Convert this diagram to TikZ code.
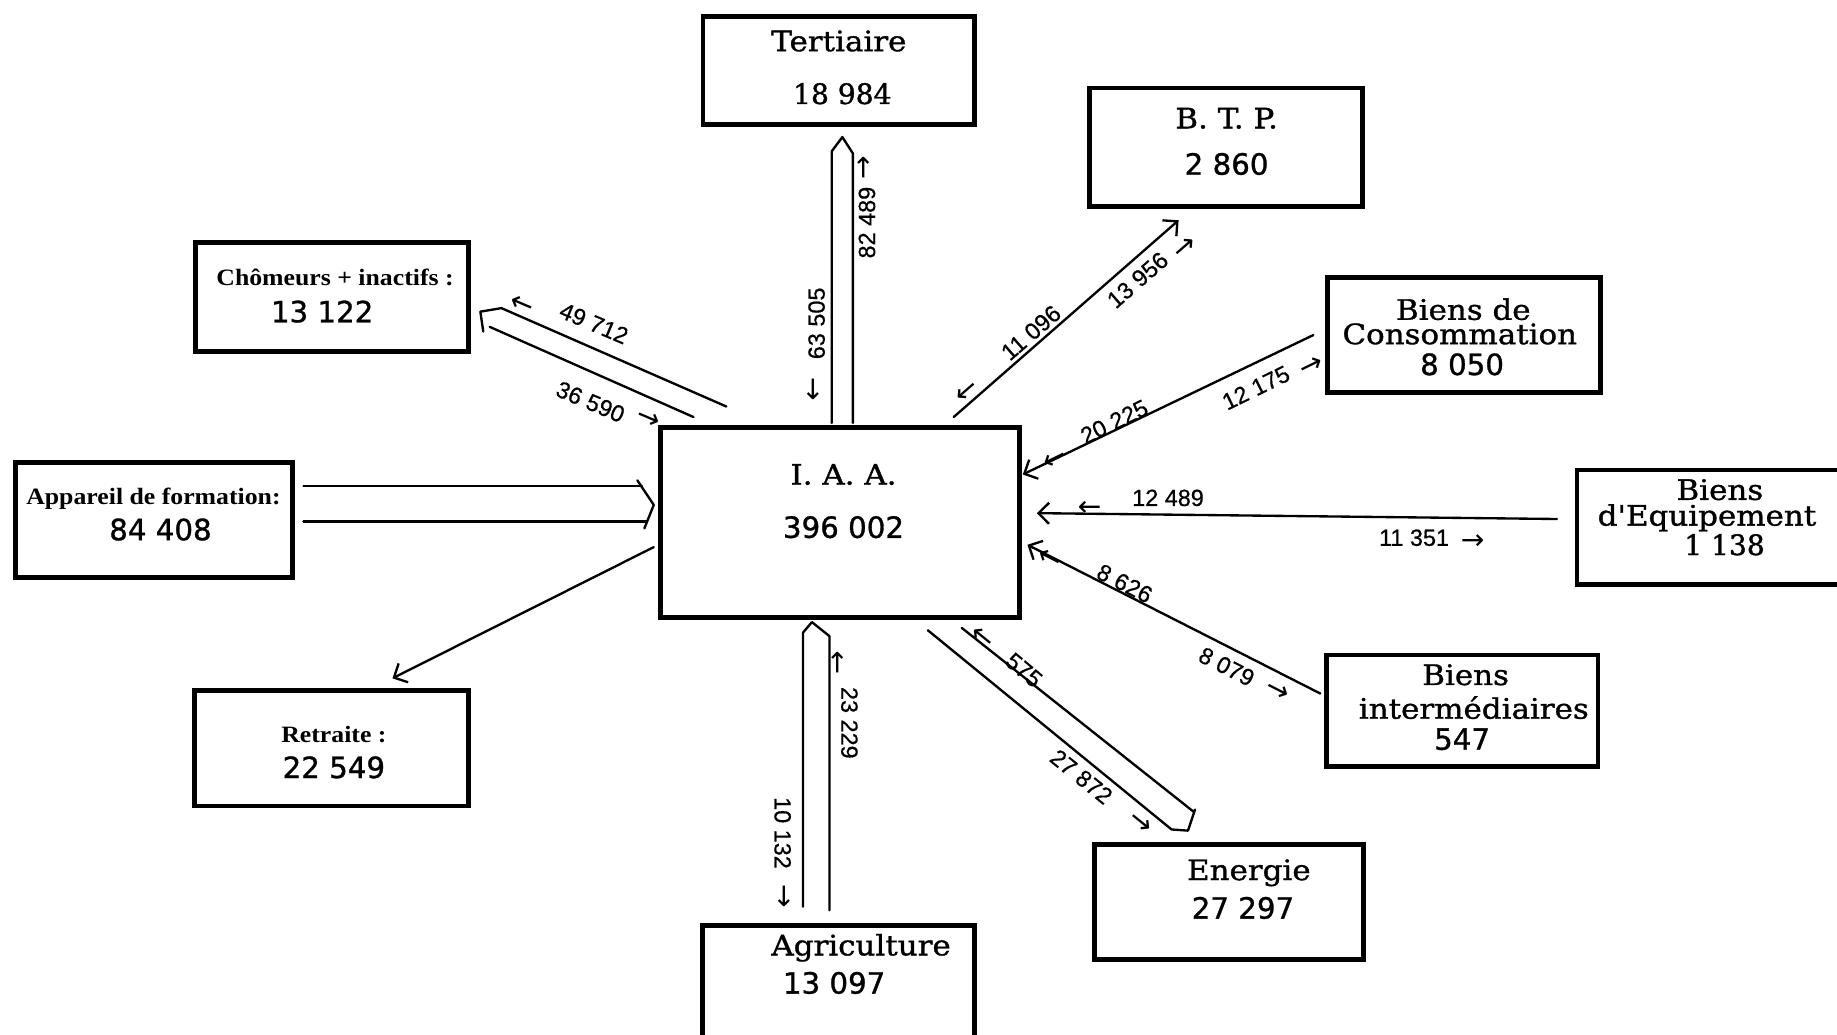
\documentclass[tikz,border=0pt]{standalone}
\usepackage{fontspec}
\usetikzlibrary{arrows.meta}
\newfontfamily\labfont{DejaVu Serif}[FakeStretch=1.1,FakeBold=1.2,Ligatures=TeXOff]
\newfontfamily\numfont{DejaVu Sans}[FakeBold=1]
\newfontfamily\serifnum{DejaVu Serif}[FakeBold=1.2]
\newfontfamily\boldserif{Liberation Serif}[FakeStretch=1.1]
\newfontfamily\arrfont{Liberation Sans}[FakeBold=0.6]
\newfontfamily\symfont{DejaVu Sans}
\tikzset{
  box/.style={draw, line width=4pt, rectangle, inner sep=0pt},
  conn/.style={line width=2pt, line join=round, line cap=round},
  arr/.style={conn, -{Straight Barb[length=9pt,width=18pt,line width=2pt]}},
  lab/.style={font={\labfont\fontsize{24}{26}\selectfont}, inner sep=0pt},
  bnum/.style={font={\numfont\fontsize{25}{27}\selectfont}, inner sep=0pt},
  bnums/.style={font={\serifnum\fontsize{24}{26}\selectfont}, inner sep=0pt},
  blab/.style={font={\boldserif\bfseries\fontsize{20}{22}\selectfont}, inner sep=0pt},
  flab/.style={font={\arrfont\fontsize{20}{22}\selectfont}, inner sep=0pt},
  sarr/.style={font={\symfont\fontsize{24}{26}\selectfont}, inner sep=0pt},
}
\begin{document}
\begin{tikzpicture}[x=1pt,y=-1pt]
\useasboundingbox (0,0) rectangle (1568,883);
\clip (0,0) rectangle (1568,883);
\fill[white] (0,0) rectangle (1568,883);

% boxes
\node[box, minimum width=232pt, minimum height=92pt]  (ter) at (716,60) {};
\node[box, minimum width=233pt, minimum height=101pt] (btp) at (1046.5,125.5) {};
\node[box, minimum width=233pt, minimum height=93pt]  (cho) at (283.5,253.5) {};
\node[box, minimum width=233pt, minimum height=98pt]  (bc)  at (1249.5,286) {};
\node[box, minimum width=236pt, minimum height=98pt]  (app) at (131.5,444) {};
\node[box, minimum width=306pt, minimum height=162pt] (iaa) at (717,446) {};
\node[box, minimum width=352pt, minimum height=97.5pt] (be) at (1522,450) {};
\node[box, minimum width=234pt, minimum height=98.5pt] (ret) at (283,638.8) {};
\node[box, minimum width=232pt, minimum height=95pt]  (bi)  at (1248,606.5) {};
\node[box, minimum width=230pt, minimum height=98pt]  (ene) at (1049,770) {};
\node[box, minimum width=232pt, minimum height=158pt] (agr) at (715.5,869) {};

% box texts
\node[lab]   (terT) at (716,35) {Tertiaire};
\node[bnums] (terN) at (719,80) {18 984};
\node[lab]   (btpT) at (1047,101) {B. T. P.};
\node[bnum]  (btpN) at (1047,140) {2 860};
\node[blab]  (choT) at (286,237) {Chômeurs + inactifs :};
\node[bnum]  (choN) at (275,266) {13 122};
\node[lab]   (bcT1) at (1249,264) {Biens de};
\node[lab]   (bcT2) at (1246,285) {Consommation};
\node[bnum]  (bcN)  at (1248,311) {8 050};
\node[blab]  (appT) at (131,426) {Appareil de formation:};
\node[bnum]  (appN) at (137,452) {84 408};
\node[lab]   (iaaT) at (720,405) {I. A. A.};
\node[bnum]  (iaaN) at (720,450) {396 002};
\node[lab]   (beT1) at (1468,418) {Biens};
\node[lab]   (beT2) at (1457,442) {d'Equipement};
\node[bnums] (beN)  at (1472,465) {1 138};
\node[blab]  (retT) at (285,627) {Retraite :};
\node[bnum]  (retN) at (285,655) {22 549};
\node[lab]   (biT1) at (1251,576) {Biens};
\node[lab]   (biT2) at (1258,604) {intermédiaires};
\node[bnum]  (biN)  at (1248,631) {547};
\node[lab]   (eneT) at (1066,745) {Energie};
\node[bnum]  (eneN) at (1061,775) {27 297};
\node[lab]   (agrT) at (735,809) {Agriculture};
\node[bnum]  (agrN) at (712,839) {13 097};

% connector end points
\coordinate (tA) at (710,361);   \coordinate (tB) at (728,361);
\coordinate (cA) at (620,347);   \coordinate (cB) at (592,356);
\coordinate (aA) at (259,415);   \coordinate (aB) at (259,445);
\coordinate (gA) at (685.4,774); \coordinate (gB) at (708,777);
\coordinate (eA) at (792,538);   \coordinate (eB) at (821,536);
\coordinate (bA) at (814,356);   \coordinate (bB) at (1006,188);
\coordinate (kA) at (1121,286);  \coordinate (kB) at (873,405);
\coordinate (qA) at (1329,443);  \coordinate (qB) at (885,438);
\coordinate (iA) at (1127,592);  \coordinate (iB) at (877,465);
\coordinate (rA) at (558,467);   \coordinate (rB) at (335,579);

% double (hollow) arrows
\draw[conn] (tA) -- (710,129) -- (719,117) -- (728,131) -- (tB);
\draw[conn] (cA) -- (428,263) -- (410,266) -- (412.5,283);
\draw[conn] (cB) -- (418,279);
\draw[conn] (aA) -- (548,415);
\draw[conn] (aB) -- (552,445);
\draw[conn] (544,410) -- (558,431) -- (550,451);
\draw[conn] (gA) -- (685.4,540) -- (693,531) -- (708,543) -- (gB);
\draw[conn] (eA) -- (1000,708) -- (1014,709) -- (1020,691);
\draw[conn] (eB) -- (1019,693);

% single arrows
\draw[arr] (bA) -- (bB);
\draw[arr] (kA) -- (kB);
\draw[arr] (qA) -- (qB);
\draw[arr] (iA) -- (iB);
\draw[arr] (rA) -- (rB);

% flow labels
\node[flab, rotate=-23] (f1) at (507,276) {49 712};
\node[sarr, rotate=157] (s1) at (446,258) {→};
\node[flab, rotate=-23] (f2) at (504,343) {36 590};
\node[sarr, rotate=-23] (s2) at (553,358) {→};
\node[flab, rotate=90]  (f3) at (697,276) {63 505};
\node[sarr, rotate=-90] (s3) at (693,332) {→};
\node[flab, rotate=90]  (f4) at (740,190) {82 489};
\node[sarr, rotate=90]  (s4) at (738,143) {→};
\node[flab, rotate=41]  (f5) at (880,284) {11 096};
\node[sarr, rotate=221] (s5) at (824,333) {→};
\node[flab, rotate=41]  (f6) at (971,239) {13 956};
\node[sarr, rotate=41]  (s6) at (1012,212) {→};
\node[flab, rotate=26]  (f7) at (951,360) {20 225};
\node[sarr, rotate=206] (s7) at (900,390) {→};
\node[flab, rotate=26]  (f8) at (1072,331) {12 175};
\node[sarr, rotate=26]  (s8) at (1120,313) {→};
\node[flab]             (f9) at (997,425) {12 489};
\node[sarr, rotate=180] (s9) at (930,432) {→};
\node[flab]             (f10) at (1207,459) {11 351};
\node[sarr]             (s10) at (1257,463) {→};
\node[flab, rotate=-27] (f11) at (960,498) {8 626};
\node[sarr, rotate=153] (s11) at (897,475) {→};
\node[flab, rotate=-27] (f12) at (1047,569) {8 079};
\node[sarr, rotate=-27] (s12) at (1090,590) {→};
\node[flab, rotate=-40] (f13) at (874,572) {575};
\node[sarr, rotate=141] (s13) at (840,543) {→};
\node[flab, rotate=-39] (f14) at (923,663) {27 872};
\node[sarr, rotate=-39] (s14) at (973,703) {→};
\node[flab, rotate=-90] (f15) at (725,617) {23 229};
\node[sarr, rotate=90]  (s15) at (716,566) {→};
\node[flab, rotate=-90] (f16) at (668,711) {10 132};
\node[sarr, rotate=-90] (s16) at (668,765) {→};
\end{tikzpicture}
\end{document}
